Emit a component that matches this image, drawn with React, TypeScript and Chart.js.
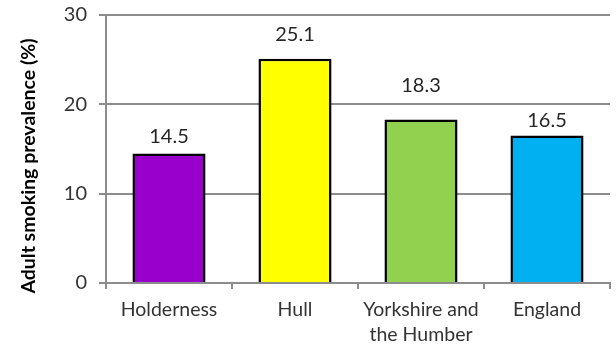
import React, { useEffect, useRef } from "react";
import { Chart, registerables } from "chart.js";

Chart.register(...registerables);

const categories: (string | string[])[] = ["Holderness", "Hull", ["Yorkshire and", "the Humber"], "England"];
const prevalence: number[] = [14.5, 25.1, 18.3, 16.5];
const barColors: string[] = ["#9900CC", "#FFFF00", "#92D050", "#00B0F0"];
const yTicks: number[] = [0, 10, 20, 30];
const yTitle = "Adult smoking prevalence (%)";
// gap (px) between each value label's baseline and its bar top
const labelGaps: number[] = [10, 17.5, 27.5, 8.5];

const FONT = "Lato, 'Open Sans', sans-serif";

const valueLabels = {
  id: "valueLabels",
  afterDatasetsDraw(chart: any) {
    const ctx = chart.ctx;
    const meta = chart.getDatasetMeta(0);
    ctx.save();
    ctx.font = `20px ${FONT}`;
    ctx.fillStyle = "#262626";
    ctx.textAlign = "center";
    ctx.textBaseline = "alphabetic";
    meta.data.forEach((bar: any, i: number) => {
      ctx.fillText(prevalence[i].toFixed(1), bar.x, bar.y - labelGaps[i]);
    });
    ctx.restore();
  },
};

const yTitlePlugin = {
  id: "yTitlePlugin",
  afterDraw(chart: any) {
    const ctx = chart.ctx;
    ctx.save();
    ctx.translate(29, 166);
    ctx.rotate(-Math.PI / 2);
    ctx.font = `bold 19.5px ${FONT}`;
    ctx.fillStyle = "#000000";
    ctx.textAlign = "center";
    ctx.textBaseline = "middle";
    ctx.fillText(yTitle, 0, 0);
    ctx.restore();
  },
};

export default function App() {
  const ref = useRef<HTMLCanvasElement>(null);
  useEffect(() => {
    document.body.style.margin = "0";
    const chart = new Chart(ref.current!, {
      type: "bar",
      data: {
        labels: categories,
        datasets: [
          {
            data: prevalence,
            backgroundColor: barColors,
            borderColor: "#000000",
            borderWidth: 2.5,
            categoryPercentage: 1,
            barPercentage: 0.58,
          },
        ],
      },
      options: {
        responsive: false,
        animation: false,
        layout: { padding: { top: 15, right: 6, left: 0, bottom: 0 } },
        plugins: { legend: { display: false }, tooltip: { enabled: false } },
        scales: {
          x: {
            grid: {
              drawOnChartArea: false,
              drawTicks: true,
              tickLength: 6,
              color: "#8c8c8c",
              lineWidth: 2,
              offset: true,
            },
            border: { color: "#8c8c8c", width: 2 },
            ticks: {
              color: "#333333",
              font: { family: FONT, size: 19.5, lineHeight: 1.3 },
              padding: 8,
              maxRotation: 0,
              autoSkip: false,
            },
            afterFit(scale: any) {
              scale.height = 67;
              scale.paddingLeft = 0;
              scale.paddingRight = 0;
            },
          },
          y: {
            min: 0,
            max: 30,
            afterBuildTicks(scale: any) {
              scale.ticks = yTicks.map((v) => ({ value: v }));
            },
            grid: {
              color: "#8c8c8c",
              lineWidth: 2,
              drawTicks: true,
              tickLength: 7,
            },
            border: { color: "#8c8c8c", width: 2 },
            ticks: {
              color: "#333333",
              font: { family: FONT, size: 20 },
              padding: 12,
            },
            afterFit(scale: any) {
              scale.width = 106;
              scale.paddingTop = 0;
              scale.paddingBottom = 0;
            },
          },
        },
      },
      plugins: [valueLabels, yTitlePlugin],
    });
    return () => chart.destroy();
  }, []);
  return (
    <div style={{ width: 616, height: 350 }}>
      <canvas ref={ref} width={616} height={350} />
    </div>
  );
}
